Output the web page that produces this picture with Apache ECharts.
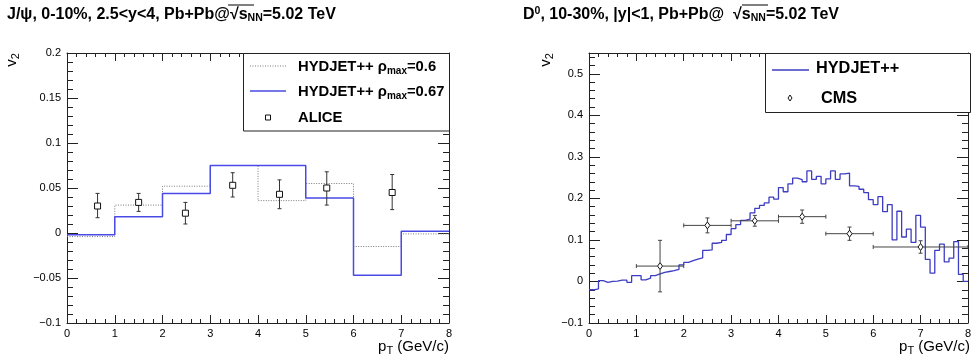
<!DOCTYPE html>
<html>
<head>
<meta charset="utf-8">
<title>v2 vs pT</title>
<script src="https://cdn.jsdelivr.net/npm/echarts@6/dist/echarts.min.js"></script>
<style>
  html, body { margin: 0; padding: 0; background: #fff; }
  #main { width: 974px; height: 363px; }
</style>
</head>
<body>
<div id="main"></div>
<script>
// ---- data ----
// left panel: J/psi, bins of 1 GeV/c
const leftBinEdges = [0, 1, 2, 3, 4, 5, 6, 7, 8]
const hydjet06 = [-0.004, 0.031, 0.052, 0.075, 0.036, 0.055, -0.015, -0.001]
const hydjet067 = [-0.002, 0.018, 0.044, 0.075, 0.075, 0.039, -0.047, 0.002]
const aliceX = [0.64, 1.5, 2.48, 3.47, 4.45, 5.44, 6.81]
const aliceY = [0.030, 0.034, 0.022, 0.053, 0.043, 0.050, 0.045]
const aliceErrLow = [0.013, 0.010, 0.012, 0.013, 0.016, 0.019, 0.019]
const aliceErrHigh = [0.014, 0.010, 0.012, 0.014, 0.016, 0.018, 0.020]

// right panel: D0, 80 bins of 0.1 GeV/c from 0 to 8
const rightRange = [0, 8]
const hydjetD0 = [
  -0.020, -0.018, 0.002, -0.002, 0.000, 0.001, 0.003, 0.003, -0.002, 0.014,
  0.014, 0.004, 0.008, 0.014, 0.018, 0.022, 0.024, 0.026, 0.029, 0.040,
  0.046, 0.050, 0.054, 0.057, 0.075, 0.076, 0.092, 0.094, 0.099, 0.113,
  0.127, 0.137, 0.147, 0.150, 0.165, 0.176, 0.183, 0.189, 0.203, 0.198,
  0.226, 0.216, 0.235, 0.249, 0.245, 0.240, 0.266, 0.246, 0.253, 0.235,
  0.247, 0.266, 0.246, 0.259, 0.261, 0.230, 0.229, 0.222, 0.214, 0.197,
  0.185, 0.204, 0.168, 0.185, 0.100, 0.169, 0.107, 0.126, 0.094, 0.159,
  0.131, 0.053, 0.020, 0.075, 0.090, 0.047, 0.056, 0.096, 0.017, 0.000
]
const cmsX = [1.5, 2.5, 3.5, 4.5, 5.5, 7.0]
const cmsXErr = [0.5, 0.5, 0.5, 0.5, 0.5, 1.0]
const cmsY = [0.037, 0.135, 0.146, 0.156, 0.115, 0.083]
const cmsYErr = [0.062, 0.018, 0.013, 0.016, 0.016, 0.015]

// tick labels
const xTickValues = [0, 1, 2, 3, 4, 5, 6, 7, 8]
const xTickLabels = ['0', '1', '2', '3', '4', '5', '6', '7', '8']
const leftYTickValues = [-0.1, -0.05, 0, 0.05, 0.1, 0.15, 0.2]
const leftYTickLabels = ['\u22120.1', '\u22120.05', '0', '0.05', '0.1', '0.15', '0.2']
const rightYTickValues = [-0.1, 0, 0.1, 0.2, 0.3, 0.4, 0.5]
const rightYTickLabels = ['\u22120.1', '0', '0.1', '0.2', '0.3', '0.4', '0.5']

const FONT = 'Liberation Sans, Arial, Helvetica, sans-serif'
const AXIS = '#222'

// ---- helpers ----
function labelFmt (values, labels) {
  return function (v) {
    const i = values.findIndex(t => Math.abs(t - v) < 1e-9)
    return i < 0 ? '' : labels[i]
  }
}

// histogram as step line: one point per bin low edge + closing point
function histData (edges, vals) {
  const d = vals.map((v, i) => [edges[i], v])
  d.push([edges[edges.length - 1], vals[vals.length - 1]])
  return d
}

const nD0 = hydjetD0.length
const d0Edges = []
for (let i = 0; i <= nD0; i++) {
  d0Edges.push(rightRange[0] + (rightRange[1] - rightRange[0]) * i / nD0)
}

function xAxisPair (grid) {
  const base = {
    gridIndex: grid,
    type: 'value',
    min: 0,
    max: 8,
    interval: 1,
    splitLine: { show: false },
    axisLine: { show: true, onZero: false, lineStyle: { color: AXIS, width: 1 } },
    axisTick: { show: true, inside: true, length: 8, lineStyle: { color: AXIS } },
    minorTick: { show: true, splitNumber: 5, length: 4, lineStyle: { color: AXIS } }
  }
  return [
    Object.assign({}, base, {
      position: 'bottom',
      axisLabel: {
        margin: 5, fontSize: 11, color: '#000', fontFamily: FONT,
        formatter: labelFmt(xTickValues, xTickLabels)
      }
    }),
    Object.assign({}, base, { position: 'top', axisLabel: { show: false } })
  ]
}

function yAxisPair (grid, min, max, interval, values, labels) {
  const base = {
    gridIndex: grid,
    type: 'value',
    min: min,
    max: max,
    interval: interval,
    splitLine: { show: false },
    axisLine: { show: true, onZero: false, lineStyle: { color: AXIS, width: 1 } },
    axisTick: { show: true, inside: true, length: 11, lineStyle: { color: AXIS } },
    minorTick: { show: true, splitNumber: 5, length: 6, lineStyle: { color: AXIS } }
  }
  return [
    Object.assign({}, base, {
      position: 'left',
      axisLabel: {
        margin: 6, fontSize: 11, color: '#000', fontFamily: FONT,
        formatter: labelFmt(values, labels)
      }
    }),
    Object.assign({}, base, { position: 'right', axisLabel: { show: false } })
  ]
}

function vLine (x, y1, y2, color) {
  return { type: 'line', shape: { x1: x, y1: y1, x2: x, y2: y2 }, style: { stroke: color, lineWidth: 1 } }
}
function hLine (x1, x2, y, color) {
  return { type: 'line', shape: { x1: x1, y1: y, x2: x2, y2: y }, style: { stroke: color, lineWidth: 1 } }
}

// ALICE: open squares with vertical error bars
function renderAlice (params, api) {
  const x = api.value(0), y = api.value(1)
  const p = api.coord([x, y])
  const lo = api.coord([x, y - api.value(2)])
  const hi = api.coord([x, y + api.value(3)])
  const h = 3, c = 2, col = '#333'
  return {
    type: 'group',
    children: [
      vLine(p[0], p[1] - h, hi[1], col),
      hLine(p[0] - c, p[0] + c, hi[1], col),
      vLine(p[0], p[1] + h, lo[1], col),
      hLine(p[0] - c, p[0] + c, lo[1], col),
      { type: 'rect', shape: { x: p[0] - h, y: p[1] - h, width: 2 * h, height: 2 * h },
        style: { fill: '#fff', stroke: '#111', lineWidth: 1 } }
    ]
  }
}

// CMS: open diamonds with x and y error bars
function renderCms (params, api) {
  const x = api.value(0), y = api.value(1), ex = api.value(2), ey = api.value(3)
  const p = api.coord([x, y])
  const l = api.coord([x - ex, y]), r = api.coord([x + ex, y])
  const lo = api.coord([x, y - ey]), hi = api.coord([x, y + ey])
  const w = 2.5, h = 3.5, c = 2, col = '#444'
  return {
    type: 'group',
    children: [
      hLine(l[0], p[0] - w, p[1], col),
      hLine(p[0] + w, r[0], p[1], col),
      vLine(l[0], p[1] - c, p[1] + c, col),
      vLine(r[0], p[1] - c, p[1] + c, col),
      vLine(p[0], p[1] - h, hi[1], col),
      vLine(p[0], p[1] + h, lo[1], col),
      hLine(p[0] - c, p[0] + c, hi[1], col),
      hLine(p[0] - c, p[0] + c, lo[1], col),
      { type: 'polygon',
        shape: { points: [[p[0], p[1] - h], [p[0] + w, p[1]], [p[0], p[1] + h], [p[0] - w, p[1]]] },
        style: { fill: '#fff', stroke: '#111', lineWidth: 1 } }
    ]
  }
}

// ---- rich text styles ----
const titleRich = {
  b: { fontSize: 16, fontWeight: 'bold', fontFamily: FONT, fill: '#000', lineHeight: 18 },
  s: { fontSize: 10.5, fontWeight: 'bold', fontFamily: FONT, fill: '#000', lineHeight: 12, verticalAlign: 'bottom' },
  u: { fontSize: 10.5, fontWeight: 'bold', fontFamily: FONT, fill: '#000', lineHeight: 11, verticalAlign: 'top' }
}
const legRich = (size) => ({
  b: { fontSize: size, fontWeight: 'bold', fontFamily: FONT, fill: '#000', lineHeight: 18 },
  s: { fontSize: 10, fontWeight: 'bold', fontFamily: FONT, fill: '#000', lineHeight: 3, verticalAlign: 'bottom' }
})
const axRich = {
  m: { fontSize: 15, fontFamily: FONT, fill: '#000', lineHeight: 18 },
  s: { fontSize: 11, fontFamily: FONT, fill: '#000', lineHeight: 1, verticalAlign: 'bottom' }
}

function text (x, y, str, rich, align) {
  return {
    type: 'text', x: x, y: y, z: 60,
    style: { text: str, rich: rich, verticalAlign: 'middle', align: align || 'left', fill: '#000' }
  }
}
function rotText (x, y, str, rich) {
  const t = text(x, y, str, rich, 'center')
  t.rotation = Math.PI / 2
  return t
}

const myChart = echarts.init(document.getElementById('main'), null, { renderer: 'canvas' })

myChart.setOption({
  animation: false,
  backgroundColor: '#fff',
  grid: [
    { left: 67, top: 53, width: 382, height: 270 },
    { left: 589, top: 53, width: 381, height: 270 }
  ],
  xAxis: [].concat(xAxisPair(0), xAxisPair(1)),
  yAxis: [].concat(
    yAxisPair(0, -0.1, 0.2, 0.05, leftYTickValues, leftYTickLabels),
    yAxisPair(1, -0.1, 0.55, 0.1, rightYTickValues, rightYTickLabels)
  ),
  series: [
    {
      name: 'HYDJET++ rho_max=0.6',
      type: 'line',
      xAxisIndex: 0,
      yAxisIndex: 0,
      step: 'end',
      symbol: 'none',
      lineStyle: { color: '#7a7a7a', width: 1, type: [1, 1.5] },
      data: histData(leftBinEdges, hydjet06)
    },
    {
      name: 'HYDJET++ rho_max=0.67',
      type: 'line',
      xAxisIndex: 0,
      yAxisIndex: 0,
      step: 'end',
      symbol: 'none',
      lineStyle: { color: '#4a4ae6', width: 1.5 },
      data: histData(leftBinEdges, hydjet067)
    },
    {
      name: 'ALICE',
      type: 'custom',
      xAxisIndex: 0,
      yAxisIndex: 0,
      clip: true,
      renderItem: renderAlice,
      data: aliceX.map((x, i) => [x, aliceY[i], aliceErrLow[i], aliceErrHigh[i]]),
      z: 5
    },
    {
      name: 'HYDJET++',
      type: 'line',
      xAxisIndex: 2,
      yAxisIndex: 2,
      step: 'end',
      symbol: 'none',
      lineStyle: { color: '#3d3dc2', width: 1.3 },
      data: histData(d0Edges, hydjetD0)
    },
    {
      name: 'CMS',
      type: 'custom',
      xAxisIndex: 2,
      yAxisIndex: 2,
      clip: true,
      renderItem: renderCms,
      data: cmsX.map((x, i) => [x, cmsY[i], cmsXErr[i], cmsYErr[i]]),
      z: 5
    }
  ],
  graphic: [
    // titles
    text(7, 15, '{b|J/\u03c8, 0-10%, 2.5<y<4, Pb+Pb@\u221a}{b|s}{s|NN}{b|=5.02 TeV}', titleRich),
    text(523, 15, '{b|D}{u|0}{b|, 10-30%, |y|<1, Pb+Pb@  \u221a}{b|s}{s|NN}{b|=5.02 TeV}', titleRich),
    // overline of the square root
    { type: 'line', z: 60, shape: { x1: 228, y1: 5, x2: 254, y2: 5 }, style: { stroke: '#000', lineWidth: 1 } },
    { type: 'line', z: 60, shape: { x1: 742, y1: 5, x2: 768, y2: 5 }, style: { stroke: '#000', lineWidth: 1 } },
    // axis titles
    rotText(12, 60, '{m|v}{s|2}', axRich),
    rotText(546, 60, '{m|v}{s|2}', axRich),
    text(449, 347, '{m|p}{s|T}{m| (GeV/c)}', axRich, 'right'),
    text(970, 347, '{m|p}{s|T}{m| (GeV/c)}', axRich, 'right'),
    // left legend
    { type: 'rect', z: 50, shape: { x: 243.5, y: 53.5, width: 206, height: 77.5 },
      style: { fill: '#fff', stroke: '#222', lineWidth: 1 } },
    { type: 'line', z: 55, shape: { x1: 250, y1: 66, x2: 286, y2: 66 },
      style: { stroke: '#7a7a7a', lineWidth: 1, lineDash: [1, 1.5] } },
    text(298, 67, '{b|HYDJET++ \u03c1}{s|max}{b|=0.6}', legRich(14.8)),
    { type: 'line', z: 55, shape: { x1: 250, y1: 91, x2: 286, y2: 91 },
      style: { stroke: '#4a4ae6', lineWidth: 1.5 } },
    text(298, 92, '{b|HYDJET++ \u03c1}{s|max}{b|=0.67}', legRich(14.8)),
    { type: 'rect', z: 55, shape: { x: 265.5, y: 115, width: 5, height: 5 },
      style: { fill: '#fff', stroke: '#111', lineWidth: 1 } },
    text(298, 118, '{b|ALICE}', legRich(14.8)),
    // right legend
    { type: 'rect', z: 50, shape: { x: 765.5, y: 53.5, width: 205, height: 59 },
      style: { fill: '#fff', stroke: '#222', lineWidth: 1 } },
    { type: 'line', z: 55, shape: { x1: 772, y1: 70, x2: 809, y2: 70 },
      style: { stroke: '#3d3dc2', lineWidth: 1.3 } },
    text(816, 69, '{b|HYDJET++}', legRich(16.3)),
    { type: 'polygon', z: 55, shape: { points: [[790, 95], [792, 98], [790, 101], [788, 98]] },
      style: { fill: '#fff', stroke: '#111', lineWidth: 1 } },
    text(821, 98.5, '{b|CMS}', legRich(16.3))
  ]
})

window.addEventListener('resize', () => {
  myChart.resize()
})
</script>
</body>
</html>
